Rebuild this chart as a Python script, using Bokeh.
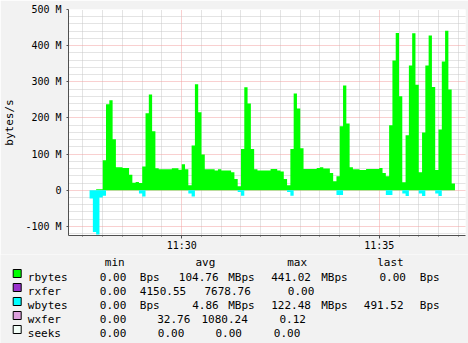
from bokeh.plotting import figure
from bokeh.models import FixedTicker, Range1d
from bokeh.layouts import column
from bokeh.embed import file_html
from bokeh.resources import INLINE
from bokeh.core.properties import value

# ---------------- data ----------------
# 5-second samples; time in seconds relative to 11:30:00, first sample starts 11:27:40
step_seconds = 5
start_seconds = -140
# read bytes per second (MB/s)
rbytes = [0, 0, 3, 3, 83, 238, 249, 141, 64, 64,
          62, 62, 43, 21, 23, 20, 66, 213, 265, 163,
          61, 58, 58, 58, 58, 61, 61, 57, 72, 58,
          14, 124, 293, 216, 99, 58, 58, 58, 55, 58,
          55, 55, 55, 50, 31, 11, 114, 285, 240, 114,
          58, 55, 55, 55, 55, 59, 59, 55, 52, 31,
          14, 114, 268, 226, 116, 59, 59, 59, 59, 62,
          64, 60, 60, 48, 25, 39, 177, 290, 185, 64,
          58, 58, 56, 56, 59, 59, 59, 59, 62, 48,
          39, 180, 359, 435, 260, 22, 152, 345, 434, 292,
          50, 160, 345, 428, 286, 56, 168, 356, 441, 279,
          19]
# write bytes per second (MB/s), drawn below zero
wbytes = [23, 115, 122, 20, 15, 0, 0, 0, 0, 0,
          0, 0, 0, 0, 0, 9, 17, 0, 0, 0,
          0, 0, 0, 0, 0, 0, 0, 0, 0, 0,
          9, 17, 0, 0, 0, 0, 0, 0, 0, 0,
          0, 0, 0, 0, 0, 5, 15, 0, 0, 0,
          0, 0, 0, 0, 0, 0, 0, 0, 0, 0,
          5, 15, 0, 0, 0, 0, 0, 0, 0, 0,
          0, 0, 0, 0, 0, 13, 13, 0, 0, 0,
          0, 0, 0, 0, 0, 0, 0, 0, 0, 0,
          13, 13, 0, 0, 0, 9, 16, 0, 0, 0,
          9, 16, 0, 0, 0, 9, 16, 0, 0, 0,
          0]

ytick_values = [-100, 0, 100, 200, 300, 400, 500]
ytick_labels = ["-100 M", "0", "100 M", "200 M", "300 M", "400 M", "500 M"]
xtick_values = [0, 300]
xtick_labels = ["11:30", "11:35"]

series_names = ["rbytes", "rxfer", "wbytes", "wxfer", "seeks"]
series_colors = ["#00FF00", "#9932CC", "#00FFFF", "#DDA0DD", "#F3FFF8"]
header_labels = ["min", "avg", "max", "last"]
legend_rows = [
    ["0.00", "Bps", "104.76", "MBps", "441.02", "MBps", "0.00", "Bps"],
    ["0.00", "4150.55", "7678.76", "0.00"],
    ["0.00", "Bps", "4.86", "MBps", "122.48", "MBps", "491.52", "Bps"],
    ["0.00", "32.76", "1080.24", "0.12"],
    ["0.00", "0.00", "0.00", "0.00"],
]

# ---------------- style / layout ----------------
BG = "#F2F2F2"
MONO = "DejaVu Sans Mono"
AXIS = "#505050"

n = len(rbytes)
edges = [start_seconds + step_seconds * i for i in range(n + 1)]


def step_outline(vals, sign):
    xs, ys = [edges[0]], [0]
    for i, v in enumerate(vals):
        xs += [edges[i], edges[i + 1]]
        ys += [sign * v, sign * v]
    xs.append(edges[-1])
    ys.append(0)
    return xs, ys


XR = (-172, 431)
YR = (-125, 500)

p = figure(width=468, height=254, x_range=Range1d(*XR), y_range=Range1d(*YR),
           output_backend="svg", toolbar_location=None,
           min_border_left=63, min_border_right=3, min_border_top=9, min_border_bottom=19,
           background_fill_color="white", border_fill_color=BG, outline_line_color=None)

rx, ry = step_outline(rbytes, 1)
wx, wy = step_outline(wbytes, -1)
p.patch(rx, ry, fill_color="#00FF00", line_color=None)
p.patch(wx, wy, fill_color="#00FFFF", line_color=None)

yt = FixedTicker(ticks=ytick_values,
                 minor_ticks=[v for v in range(-120, 501, 20) if v % 100 != 0])
xt = FixedTicker(ticks=xtick_values,
                 minor_ticks=[v for v in range(-150, 428, 30) if v % 300 != 0])
p.yaxis.ticker = yt
p.xaxis.ticker = xt
p.ygrid.ticker = yt
p.xgrid.ticker = xt
p.yaxis.major_label_overrides = dict(zip(ytick_values, ytick_labels))
p.xaxis.major_label_overrides = dict(zip(xtick_values, xtick_labels))

for g in (p.xgrid, p.ygrid):
    g.grid_line_color = "#F2A0A0"
    g.grid_line_dash = "1 1"
    g.grid_line_width = 1
    g.minor_grid_line_color = "#C8C8C8"
    g.minor_grid_line_dash = "1 1"
    g.minor_grid_line_width = 1

for ax in (p.xaxis, p.yaxis):
    ax.axis_line_color = AXIS
    ax.major_tick_line_color = AXIS
    ax.minor_tick_line_color = AXIS
    ax.major_label_text_font = MONO
    ax.major_label_text_font_size = "10px"
    ax.major_label_text_color = "#000000"
    ax.major_tick_in = 0
    ax.minor_tick_in = 0

p.yaxis.major_tick_out = 2
p.yaxis.minor_tick_out = 0
p.yaxis.major_label_standoff = 5
p.yaxis.axis_label = "bytes/s"
p.yaxis.axis_label_text_font = MONO
p.yaxis.axis_label_text_font_size = "11px"
p.yaxis.axis_label_text_font_style = "normal"
p.yaxis.axis_label_text_color = "#000000"
p.yaxis.axis_label_standoff = 6

p.xaxis.major_tick_out = 3
p.xaxis.minor_tick_out = 1
p.xaxis.major_label_standoff = 1

# ---------------- legend panel ----------------
lg = figure(width=468, height=89, x_range=Range1d(0, 468), y_range=Range1d(343, 254),
            output_backend="svg", toolbar_location=None, min_border=0,
            x_axis_location=None, y_axis_location=None,
            background_fill_color=BG, border_fill_color=BG, outline_line_color=None)
lg.xgrid.visible = False
lg.ygrid.visible = False

for fig in (p, lg):
    try:
        fig.frame_align = False
    except Exception:
        pass

row_centers = [273 + 14 * i for i in range(len(series_names))]
header_x = [104.3, 195, 286.7, 376.7]
row_token_x = [
    [99.3, 139.3, 178.3, 227.7, 270.7, 320.7, 379, 419.3],
    [99.3, 139.3, 204, 287.3],
    [99.3, 139.3, 191.7, 227.7, 270.7, 320.7, 363.3, 419.3],
    [99.3, 156.7, 201, 279],
    [99.3, 157.3, 215, 273.3],
]

lg.rect(x=[16.7] * len(series_names), y=row_centers, width=8, height=8,
        fill_color=series_colors, line_color="#000000", line_width=1)

tx, ty, tt = [], [], []
for hx, h in zip(header_x, header_labels):
    tx.append(hx); ty.append(262.3); tt.append(h)
for i, name in enumerate(series_names):
    base = row_centers[i] + 3.7
    tx.append(27.3); ty.append(base); tt.append(name)
    for x, s in zip(row_token_x[i], legend_rows[i]):
        tx.append(x); ty.append(base); tt.append(s)

lg.text(x=tx, y=ty, text=tt, text_font=value(MONO), text_font_size="11px",
        text_baseline="alphabetic", text_align="left", text_color="#000000")

layout = column(p, lg, spacing=0)
open("out.html", "w").write(file_html(layout, INLINE))
